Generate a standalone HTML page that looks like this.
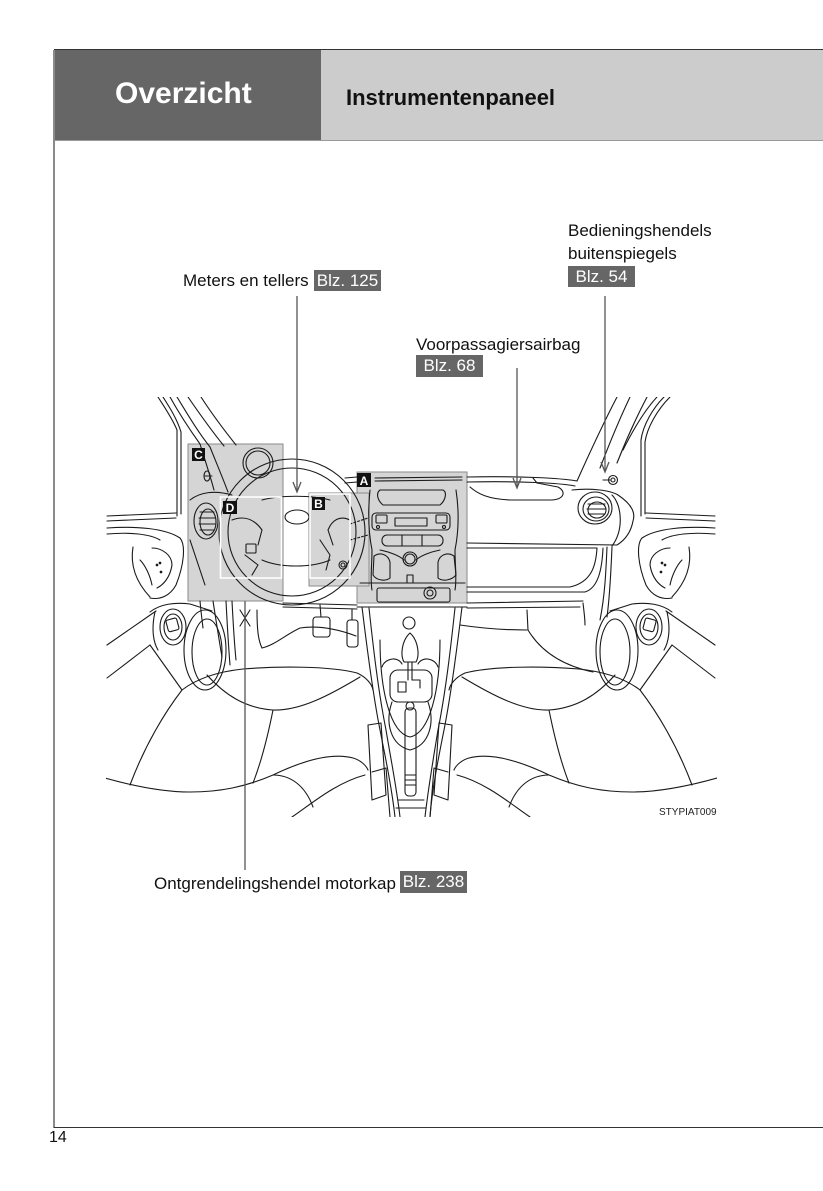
<!DOCTYPE html>
<html>
<head>
<meta charset="utf-8">
<style>
  html,body{margin:0;padding:0;background:#fff;}
  body{width:823px;height:1191px;position:relative;overflow:hidden;font-family:"Liberation Sans",Arial,sans-serif;}
  .abs{position:absolute;white-space:nowrap;}
  .lbl{font-size:17px;line-height:17px;color:#111;}
  .badge{position:absolute;width:67px;background:#666;color:#fff;font-size:17px;text-align:center;white-space:nowrap;}
</style>
</head>
<body>

<!-- header -->
<div class="abs" style="left:54px;top:50px;width:267px;height:90px;background:#666;"></div>
<div class="abs" style="left:321px;top:50px;width:502px;height:90px;background:#cccccc;"></div>
<div class="abs" style="left:54px;top:49px;width:769px;height:1px;background:#333;"></div>
<div class="abs" style="left:54px;top:140px;width:769px;height:1px;background:#999;"></div>
<div class="abs" style="left:115px;top:79px;font-size:30px;line-height:30px;font-weight:bold;color:#fff;">Overzicht</div>
<div class="abs" style="left:346px;top:87px;font-size:22px;line-height:22px;font-weight:bold;color:#111;">Instrumentenpaneel</div>

<!-- frame -->
<div class="abs" style="left:53px;top:50px;width:2px;height:1078px;background:#8a8a8a;"></div>
<div class="abs" style="left:54px;top:1127px;width:769px;height:1px;background:#333;"></div>
<div class="abs" style="left:49px;top:1130px;font-size:16px;line-height:16px;color:#111;">14</div>

<!-- labels -->
<div class="abs lbl" style="left:183px;top:272px;">Meters en tellers</div>
<div class="badge" style="left:314px;top:270px;height:21px;line-height:21px;">Blz. 125</div>

<div class="abs lbl" style="left:568px;top:222px;">Bedieningshendels</div>
<div class="abs lbl" style="left:568px;top:245px;">buitenspiegels</div>
<div class="badge" style="left:568px;top:266px;height:21px;line-height:21px;">Blz. 54</div>

<div class="abs lbl" style="left:416px;top:336px;">Voorpassagiersairbag</div>
<div class="badge" style="left:416px;top:355px;height:22px;line-height:22px;">Blz. 68</div>

<div class="abs lbl" style="left:154px;top:875px;">Ontgrendelingshendel motorkap</div>
<div class="badge" style="left:400px;top:871px;height:22px;line-height:22px;">Blz. 238</div>

<div class="abs" style="left:659px;top:808px;font-size:10px;line-height:10px;color:#222;">STYPIAT009</div>

<svg width="823" height="1191" style="position:absolute;left:0;top:0;" xmlns="http://www.w3.org/2000/svg">
  <defs>
    <clipPath id="cp"><rect x="106" y="397" width="611" height="420"/></clipPath>
  </defs>

  <!-- grey callout boxes -->
  <rect x="188" y="444" width="95" height="157" fill="#d5d5d5" stroke="#8a8a8a" stroke-width="1"/>
  <rect x="357" y="472" width="110" height="131" fill="#d5d5d5" stroke="#8a8a8a" stroke-width="1"/>
  <rect x="309" y="493" width="60" height="93" fill="#d5d5d5" stroke="#8a8a8a" stroke-width="1"/>

  <g clip-path="url(#cp)" fill="none" stroke="#1a1a1a" stroke-width="1.1" stroke-linejoin="round" stroke-linecap="round">

    <!-- LEFT pillar -->
    <path d="M158,397 C165,408 172,418 177,430 L177,516"/>
    <path d="M163,397 C170,408 177,419 181,432 L181,514"/>
    <path d="M170,397 C180,415 190,430 200,444 C205,460 210,475 214,490"/>
    <path d="M177,397 C188,415 198,432 210,447 C216,462 222,476 228,492"/>
    <path d="M188,397 C199,413 211,430 224,446"/>
    <path d="M201,397 C212,414 224,430 236,445"/>

    <!-- door group (left), mirrored for right -->
    <g id="doorL">
      <path d="M107,516 L176,513"/>
      <path d="M107,521 L176,518"/>
      <path d="M107,528 C135,526 165,528 180,538 C186,545 184,565 176,585 C170,596 160,600 150,598"/>
      <path d="M107,534 C130,532 150,534 160,540"/>
      <path d="M133,547 C130,565 136,582 150,597"/>
      <path d="M152,548 C162,548 172,555 172,565 C170,578 163,585 157,588"/>
      <path d="M140,560 C145,565 150,575 152,585"/>
      <circle cx="157" cy="565" r="0.8" fill="#1a1a1a"/>
      <circle cx="161" cy="572" r="0.8" fill="#1a1a1a"/>
      <circle cx="160" cy="563" r="0.8" fill="#1a1a1a"/>
      <path d="M107,645 L156,611"/>
      <path d="M107,678 L150,645"/>
      <path d="M150,645 L182,690"/>
      <path d="M150,612 C160,604 175,602 190,604 L212,611"/>
      <ellipse cx="205" cy="650" rx="21" ry="40"/>
      <ellipse cx="207" cy="652" rx="15" ry="33"/>
      <ellipse cx="173" cy="627" rx="13" ry="18"/>
      <ellipse cx="173" cy="627" rx="9" ry="13"/>
      <rect x="167" y="619" width="11" height="12" rx="2" transform="rotate(-15 172 625)"/>
      <path d="M155,612 C152,625 152,640 158,650"/>
    </g>
    <use href="#doorL" transform="translate(822,0) scale(-1,1)"/>

    <!-- RIGHT pillar -->
    <path d="M577,481 C590,452 605,420 617,397"/>
    <path d="M600,468 C610,442 620,418 630,397"/>
    <path d="M617,463 C626,440 636,418 647,397"/>
    <path d="M623,450 C632,432 643,412 657,397"/>
    <path d="M641,516 L641,440 C643,425 653,408 664,397"/>
    <path d="M645,514 L645,442 C647,428 657,410 670,397"/>
    <path d="M603,480 L610,480"/>
    <circle cx="613" cy="480" r="4.5"/>
    <circle cx="613" cy="480" r="2"/>

    <!-- right dashboard -->
    <path d="M467,477 C520,476 560,478 577,481"/>
    <path d="M467,482 C520,481 560,483 575,486"/>
    <path d="M470,487 C478,494 488,499 510,500 L552,500 C565,499 566,491 558,487 L537,483"/>
    <path d="M533,478 L537,483"/>
    <path d="M572,490 C590,488 610,490 618,495 C630,503 636,512 633,521 C631,532 625,540 617,545 L467,543"/>
    <path d="M612,495 C622,505 624,530 612,546"/>
    <ellipse cx="595" cy="508" rx="17" ry="16"/>
    <ellipse cx="596" cy="509" rx="13" ry="12"/>
    <ellipse cx="597" cy="510" rx="9" ry="8"/>
    <path d="M588,504 L605,504 M587,509 L606,509 M588,514 L605,514"/>
    <path d="M467,548 L597,548 C596,565 592,582 570,587 L467,587"/>
    <path d="M603,548 C602,570 598,588 585,592 L467,592"/>
    <path d="M467,603 L583,601"/>
    <path d="M467,608 L580,607"/>
    <path d="M607,547 C606,570 605,595 600,620"/>
    <path d="M612,547 C611,570 610,595 607,617"/>
    <path d="M583,603 C584,612 585,618 585,625"/>
    <path d="M527,610 L528,630 C540,650 560,665 593,672"/>
    <path d="M460,625 C480,628 500,630 527,630"/>

    <!-- left lower dash / footwell -->
    <path d="M283,603 L357,605"/>
    <path d="M283,607 L357,609"/>
    <path d="M226,601 C227,620 228,640 230,665"/>
    <path d="M232,601 C233,620 234,640 236,660"/>
    <path d="M200,601 C201,612 202,620 203,628"/>
    <path d="M213,601 C216,620 219,640 222,657"/>
    <path d="M240,610 L250,626 M250,610 L240,626"/>
    <path d="M257,610 C257,628 258,640 262,648"/>
    <path d="M262,648 C275,645 285,635 300,628 C320,625 340,630 356,636"/>
    <path d="M320,605 L321,617"/>
    <rect x="313" y="617" width="17" height="20" rx="3"/>
    <path d="M352,609 L352,620"/>
    <rect x="347" y="620" width="11" height="27" rx="3"/>
    <path d="M345,478 L357,477 M345,483 L357,482"/>

    <!-- steering wheel -->
    <circle cx="292" cy="532" r="73"/>
    <circle cx="292" cy="532" r="64"/>
    <ellipse cx="297" cy="517" rx="12" ry="7"/>
    <path d="M262,500 C280,495 312,495 330,500"/>
    <path d="M262,560 C280,568 312,568 330,560"/>
    <path d="M232,520 C245,515 255,520 262,530 L258,545"/>
    <path d="M350,520 C340,515 332,520 328,530 L333,545"/>
    <path d="M245,555 L258,565 L252,575"/>
    <rect x="246" y="544" width="10" height="9" rx="1"/>
    <path d="M320,540 L330,555 L326,570"/>
    <circle cx="343" cy="565" r="4"/>
    <circle cx="343" cy="565" r="2"/>
    <path d="M350,540 L368,535 M350,524 L368,518" stroke-dasharray="2,2"/>

    <!-- instrument cluster / left vent (box C) -->
    <circle cx="258" cy="463" r="15"/>
    <circle cx="258" cy="463" r="12"/>
    <path d="M190,500 C200,492 215,490 232,495"/>
    <ellipse cx="206" cy="521" rx="12" ry="18"/>
    <ellipse cx="208" cy="522" rx="8" ry="13"/>
    <path d="M200,512 L214,512 M199,518 L215,518 M199,524 L215,524 M200,530 L214,530"/>
    <path d="M190,540 C195,555 200,570 205,585"/>
    <path d="M205,476 L212,476"/>
    <ellipse cx="207" cy="476" rx="3" ry="5"/>

    <!-- center stack (box A) -->
    <path d="M375,478 L462,477 M375,481 L462,480"/>
    <path d="M380,490 L443,490 C447,492 446,500 440,505 L383,505 C377,500 376,493 380,490 Z"/>
    <path d="M370,490 C368,510 368,530 372,550 C372,565 370,580 372,590"/>
    <path d="M456,490 C459,510 459,530 455,550 C455,565 457,580 455,590"/>
    <rect x="372" y="513" width="78" height="17" rx="4"/>
    <rect x="395" y="518" width="32" height="8"/>
    <rect x="376" y="515" width="11" height="8" rx="1"/>
    <rect x="436" y="515" width="11" height="8" rx="1"/>
    <circle cx="378" cy="527" r="1.5"/>
    <circle cx="444" cy="527" r="1.5"/>
    <rect x="382" y="535" width="61" height="11" rx="5"/>
    <path d="M402,535 L402,546 M422,535 L422,546"/>
    <path d="M380,550 C390,552 400,556 404,560 M440,550 C430,552 420,556 416,560"/>
    <circle cx="410" cy="559" r="7"/>
    <circle cx="410" cy="559" r="5"/>
    <path d="M374,556 C380,552 388,554 390,562 L390,578 C385,582 376,580 373,575 Z"/>
    <path d="M454,556 C448,552 440,554 438,562 L438,578 C443,582 452,580 456,575 Z"/>
    <rect x="407" y="575" width="6" height="8"/>
    <path d="M360,583 L465,583"/>
    <rect x="377" y="588" width="73" height="14" rx="2"/>
    <circle cx="430" cy="593" r="6"/>
    <circle cx="430" cy="593" r="3"/>

    <!-- center console -->
    <path d="M357,607 L467,607"/>
    <path d="M362,607 C366,640 372,690 380,730 C386,760 392,790 395,817"/>
    <path d="M369,608 C373,645 378,690 386,730 C391,760 397,790 400,817"/>
    <path d="M462,607 C458,640 452,690 444,730 C438,760 432,790 430,817"/>
    <path d="M455,608 C451,645 446,690 438,730 C433,760 428,790 425,817"/>
    <path d="M380,640 C380,690 390,733 410,737 C430,733 440,690 440,640"/>
    <circle cx="409" cy="623" r="6"/>
    <path d="M410,633 C402,640 400,655 404,662 L416,662 C420,655 418,640 410,633 Z"/>
    <path d="M408,662 L408,680 M412,662 L412,680"/>
    <path d="M382,667 C385,658 398,656 402,664 M438,667 C435,658 422,656 418,664"/>
    <rect x="390" y="670" width="42" height="32" rx="8"/>
    <path d="M398,682 L406,682 L406,692 L398,692 Z M412,680 L420,680 L420,688"/>
    <path d="M392,702 C385,722 390,745 410,750 C430,745 435,722 428,702"/>
    <circle cx="410" cy="706" r="4"/>
    <rect x="405" y="708" width="11" height="88" rx="4"/>
    <path d="M405,775 L416,775 M405,780 L416,780 M405,785 L416,785"/>
    <path d="M368,725 L381,723 L386,795 L372,800 Z"/>
    <path d="M452,725 L439,723 L434,795 L448,800 Z"/>
    <path d="M372,772 L386,768 L390,817 M448,772 L434,768 L430,817"/>
    <path d="M398,800 L424,800 M396,808 L426,808"/>

    <!-- seats -->
    <g id="seatL">
      <path d="M182,690 C195,680 215,672 243,669 C280,666 330,666 357,673 C366,677 372,684 373,690"/>
      <path d="M207,675 C225,695 245,708 273,710 C300,711 330,695 360,677"/>
      <path d="M182,690 C165,712 145,745 130,785"/>
      <path d="M105,778 C130,785 160,792 190,792 C220,792 245,787 273,775 C300,762 330,752 353,758 C360,760 366,765 368,770"/>
      <path d="M273,710 C268,735 262,760 253,783"/>
      <path d="M273,775 C290,775 305,785 313,807"/>
      <path d="M292,817 C310,805 335,783 365,775"/>
    </g>
    <use href="#seatL" transform="translate(822,0) scale(-1,1)"/>
  </g>

  <!-- inner white frames D and B -->
  <rect x="220.5" y="497" width="61" height="81" fill="none" stroke="#fff" stroke-width="1.6"/>
  <rect x="310" y="494" width="40" height="84" fill="none" stroke="#fff" stroke-width="1.6"/>

  <!-- letter tags -->
  <g font-family="Liberation Sans, Arial, sans-serif" font-weight="bold" font-size="12" fill="#fff" text-anchor="middle">
    <rect x="192" y="448" width="13" height="13" fill="#111"/>
    <text x="198.5" y="459">C</text>
    <rect x="223" y="501" width="14" height="13" fill="#111"/>
    <text x="230" y="512">D</text>
    <rect x="312" y="497" width="13" height="13" fill="#111"/>
    <text x="318.5" y="508">B</text>
    <rect x="357" y="473" width="14" height="14" fill="#111"/>
    <text x="364" y="485">A</text>
  </g>

  <!-- leader lines -->
  <g fill="none" stroke="#555" stroke-width="1.3">
    <path d="M297,296 L297,491"/>
    <path d="M293,482 L297,492 L301,482"/>
    <path d="M517,368 L517,487"/>
    <path d="M513,478 L517,488 L521,478"/>
    <path d="M605,296 L605,471"/>
    <path d="M601,462 L605,472 L609,462"/>
    <path d="M245,601 L245,870"/>
  </g>
</svg>

</body>
</html>
